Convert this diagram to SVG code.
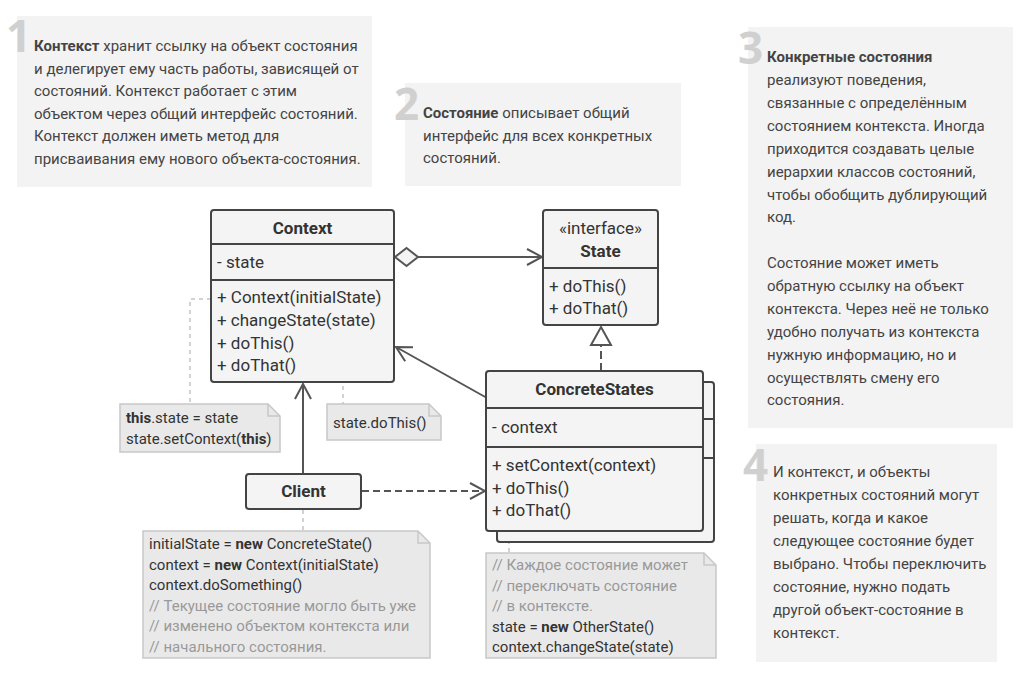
<svg xmlns="http://www.w3.org/2000/svg" width="1030" height="675" viewBox="0 0 1030 675">
  <style>
    .panel { fill: #f3f3f3; }
    .num { font-family: "Open Sans", "Noto Sans", sans-serif; font-weight: 700; font-size: 44px; fill: #d0d0d0; }
    .ptxt { font-family: Roboto, "Noto Sans", sans-serif; font-size: 15px; fill: #444; }
    .box { fill: #f4f4f4; stroke: #444; stroke-width: 2; }
    .div { stroke: #444; stroke-width: 2; fill: none; }
    .t { font-family: Roboto, "Noto Sans", sans-serif; font-size: 17px; fill: #333; }
    .th { font-family: Roboto, "Noto Sans", sans-serif; font-size: 17px; font-weight: 700; fill: #333; text-anchor: middle; }
    .note { fill: #e9e9e9; stroke: #c8c8c8; stroke-width: 1.5; }
    .nt { font-family: Roboto, "Noto Sans", sans-serif; font-size: 15px; fill: #333; }
    .cm { fill: #999; }
    .wire { stroke: #555; stroke-width: 2; fill: none; }
    .dash { stroke-dasharray: 7 4; }
    .dot { stroke: #c4c4c4; stroke-width: 1.5; stroke-dasharray: 4 4; fill: none; }
  </style>
  <defs>
    <marker id="open" markerWidth="18" markerHeight="18" refX="16" refY="9" orient="auto" markerUnits="userSpaceOnUse">
      <path d="M1,1 L16,9 L1,17" fill="none" stroke="#555" stroke-width="2"/>
    </marker>
  </defs>

  <!-- explanation panels -->
  <g id="panel1">
    <rect class="panel" x="17" y="16" width="355" height="171"/>
    <text class="num" x="6" y="52">1</text>
    <text class="ptxt">
      <tspan x="34" y="51"><tspan font-weight="700">Контекст</tspan> хранит ссылку на объект состояния</tspan>
      <tspan x="34" y="73.5">и делегирует ему часть работы, зависящей от</tspan>
      <tspan x="34" y="96">состояний. Контекст работает с этим</tspan>
      <tspan x="34" y="118.5">объектом через общий интерфейс состояний.</tspan>
      <tspan x="34" y="141">Контекст должен иметь метод для</tspan>
      <tspan x="34" y="163.5">присваивания ему нового объекта-состояния.</tspan>
    </text>
  </g>
  <g id="panel2">
    <rect class="panel" x="405" y="83" width="276" height="103"/>
    <text class="num" x="394" y="120">2</text>
    <text class="ptxt">
      <tspan x="423" y="118"><tspan font-weight="700">Состояние</tspan> описывает общий</tspan>
      <tspan x="423" y="140.5">интерфейс для всех конкретных</tspan>
      <tspan x="423" y="163">состояний.</tspan>
    </text>
  </g>
  <g id="panel3">
    <rect class="panel" x="748" y="27" width="265" height="401"/>
    <text class="num" x="738" y="64">3</text>
    <text class="ptxt">
      <tspan x="767" y="62" font-weight="700">Конкретные состояния</tspan>
      <tspan x="767" y="85">реализуют поведения,</tspan>
      <tspan x="767" y="108">связанные с определённым</tspan>
      <tspan x="767" y="131">состоянием контекста. Иногда</tspan>
      <tspan x="767" y="154">приходится создавать целые</tspan>
      <tspan x="767" y="177">иерархии классов состояний,</tspan>
      <tspan x="767" y="199.5">чтобы обобщить дублирующий</tspan>
      <tspan x="767" y="222">код.</tspan>
      <tspan x="767" y="268">Состояние может иметь</tspan>
      <tspan x="767" y="291">обратную ссылку на объект</tspan>
      <tspan x="767" y="314">контекста. Через неё не только</tspan>
      <tspan x="767" y="337">удобно получать из контекста</tspan>
      <tspan x="767" y="360">нужную информацию, но и</tspan>
      <tspan x="767" y="383">осуществлять смену его</tspan>
      <tspan x="767" y="405">состояния.</tspan>
    </text>
  </g>
  <g id="panel4">
    <rect class="panel" x="756" y="444" width="241" height="218"/>
    <text class="num" x="743" y="481">4</text>
    <text class="ptxt">
      <tspan x="773" y="477">И контекст, и объекты</tspan>
      <tspan x="773" y="500">конкретных состояний могут</tspan>
      <tspan x="773" y="523">решать, когда и какое</tspan>
      <tspan x="773" y="546">следующее состояние будет</tspan>
      <tspan x="773" y="569">выбрано. Чтобы переключить</tspan>
      <tspan x="773" y="591.5">состояние, нужно подать</tspan>
      <tspan x="773" y="614.5">другой объект-состояние в</tspan>
      <tspan x="773" y="637.5">контекст.</tspan>
    </text>
  </g>

  <!-- connectors -->
  <g id="connectors">
    <!-- aggregation Context -> State -->
    <line class="wire" x1="418" y1="257" x2="542" y2="257" marker-end="url(#open)"/>
    <path d="M395,257 L406.5,248 L418,257 L406.5,266 Z" fill="#f4f4f4" stroke="#555" stroke-width="2"/>
    <!-- realization ConcreteStates -> State -->
    <line class="wire" x1="601" y1="371" x2="601" y2="345" stroke-dasharray="8 4"/>
    <path d="M601,327 L611,345 L591,345 Z" fill="#fff" stroke="#555" stroke-width="2"/>
    <!-- association ConcreteStates -> Context -->
    <line class="wire" x1="487" y1="398" x2="396" y2="347" marker-end="url(#open)"/>
    <!-- Client -> Context -->
    <line class="wire" x1="303" y1="474" x2="303" y2="384" marker-end="url(#open)"/>
    <!-- Client -> ConcreteStates (dependency) -->
    <line class="wire dash" x1="362" y1="491" x2="485" y2="491" marker-end="url(#open)"/>
    <!-- note anchors -->
    <path class="dot" d="M211,299 H190 V404"/>
    <circle cx="308" cy="345" r="3.5" fill="#fff" stroke="#bbb" stroke-width="1.5"/>
    <path class="dot" d="M312,345 H343 V404"/>
    <line class="dot" x1="303" y1="510" x2="303" y2="531"/>
    <line class="dot" x1="509" y1="532" x2="509" y2="553"/>
  </g>

  <!-- Context class -->
  <g id="context">
    <rect class="box" x="211" y="210" width="183" height="172" rx="3"/>
    <line class="div" x1="211" y1="244" x2="394" y2="244"/>
    <line class="div" x1="211" y1="280" x2="394" y2="280"/>
    <text class="th" x="302.5" y="234">Context</text>
    <text class="t" x="217" y="268">- state</text>
    <text class="t">
      <tspan x="217" y="303">+ Context(initialState)</tspan>
      <tspan x="217" y="326">+ changeState(state)</tspan>
      <tspan x="217" y="349">+ doThis()</tspan>
      <tspan x="217" y="371">+ doThat()</tspan>
    </text>
  </g>

  <!-- State interface -->
  <g id="state">
    <rect class="box" x="543" y="210" width="115" height="115" rx="3"/>
    <line class="div" x1="543" y1="268" x2="658" y2="268"/>
    <text class="t" x="600.5" y="234" text-anchor="middle">«interface»</text>
    <text class="th" x="600.5" y="257">State</text>
    <text class="t">
      <tspan x="549" y="292">+ doThis()</tspan>
      <tspan x="549" y="314">+ doThat()</tspan>
    </text>
  </g>

  <!-- ConcreteStates class (stacked) -->
  <g id="concrete-states">
    <rect class="box" x="497" y="382" width="217" height="160" rx="3"/>
    <line class="div" x1="703" y1="419" x2="714" y2="419"/>
    <line class="div" x1="703" y1="458" x2="714" y2="458"/>
    <rect class="box" x="486" y="371" width="217" height="160" rx="3"/>
    <line class="div" x1="486" y1="408" x2="703" y2="408"/>
    <line class="div" x1="486" y1="447" x2="703" y2="447"/>
    <text class="th" x="594.5" y="395">ConcreteStates</text>
    <text class="t" x="492" y="433">- context</text>
    <text class="t">
      <tspan x="492" y="471">+ setContext(context)</tspan>
      <tspan x="492" y="494">+ doThis()</tspan>
      <tspan x="492" y="516">+ doThat()</tspan>
    </text>
  </g>

  <!-- Client -->
  <g id="client">
    <rect class="box" x="246" y="474" width="115" height="35" rx="3"/>
    <text class="th" x="303.5" y="497">Client</text>
  </g>

  <!-- notes -->
  <g id="note-change-state">
    <path class="note" d="M120,404 H268 L280,416 V452 H120 Z"/>
    <path d="M268,404 V416 H280" fill="none" stroke="#c8c8c8" stroke-width="1.5"/>
    <text class="nt">
      <tspan x="126" y="423"><tspan font-weight="700">this</tspan>.state = state</tspan>
      <tspan x="126" y="444">state.setContext(<tspan font-weight="700">this</tspan>)</tspan>
    </text>
  </g>
  <g id="note-do-this">
    <path class="note" d="M327,404 H429 L441,416 V440 H327 Z"/>
    <path d="M429,404 V416 H441" fill="none" stroke="#c8c8c8" stroke-width="1.5"/>
    <text class="nt" x="333" y="428">state.doThis()</text>
  </g>
  <g id="note-client">
    <path class="note" d="M143,531 H418 L430,543 V658 H143 Z"/>
    <path d="M418,531 V543 H430" fill="none" stroke="#c8c8c8" stroke-width="1.5"/>
    <text class="nt">
      <tspan x="149" y="549">initialState = <tspan font-weight="700">new</tspan> ConcreteState()</tspan>
      <tspan x="149" y="569.5">context = <tspan font-weight="700">new</tspan> Context(initialState)</tspan>
      <tspan x="149" y="590">context.doSomething()</tspan>
      <tspan class="cm" x="149" y="610.5">// Текущее состояние могло быть уже</tspan>
      <tspan class="cm" x="149" y="631">// изменено объектом контекста или</tspan>
      <tspan class="cm" x="149" y="651.5">// начального состояния.</tspan>
    </text>
  </g>
  <g id="note-concrete">
    <path class="note" d="M486,553 H704 L716,565 V658 H486 Z"/>
    <path d="M704,553 V565 H716" fill="none" stroke="#c8c8c8" stroke-width="1.5"/>
    <text class="nt">
      <tspan class="cm" x="492" y="570">// Каждое состояние может</tspan>
      <tspan class="cm" x="492" y="590.5">// переключать состояние</tspan>
      <tspan class="cm" x="492" y="611">// в контексте.</tspan>
      <tspan x="492" y="631.5">state = <tspan font-weight="700">new</tspan> OtherState()</tspan>
      <tspan x="492" y="652">context.changeState(state)</tspan>
    </text>
  </g>
</svg>
